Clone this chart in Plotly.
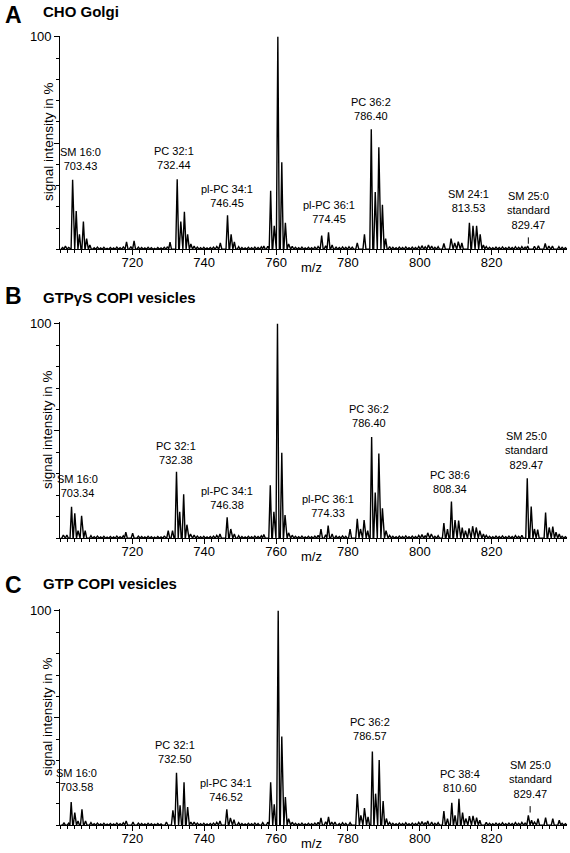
import plotly.graph_objects as go

# ---------------- data ----------------
panel_letters = ["A", "B", "C"]
panel_titles = ["CHO Golgi", "GTPγS COPI vesicles", "GTP COPI vesicles"]

# Panel A: CHO Golgi  (m/z, signal intensity in %)
mz_a = [701.4, 703.4, 704.4, 705.3, 706.4, 707.3, 708.2, 718.4, 720.5, 730.5,
        732.5, 733.5, 734.5, 735.4, 736.3, 744.5, 746.5, 747.5, 748.4, 756.6,
        758.5, 759.5, 760.5, 761.6, 762.6, 763.5, 772.7, 774.6, 775.6, 782.6,
        784.6, 786.5, 787.6, 788.6, 789.6, 790.5, 806.7, 808.7, 809.7, 810.7,
        811.7, 813.8, 814.8, 815.8, 816.8, 817.7, 830.0, 834.9, 835.9]
int_a = [1.5, 32.7, 18, 7, 13, 5, 2, 3.5, 4, 3.4,
         33, 13, 17.6, 7, 2.5, 3, 16, 7, 3.5, 1.5,
         27.5, 11, 100, 41, 12.5, 2.5, 6.5, 8, 2, 3,
         7, 56.5, 27, 48, 21, 5, 2.7, 5, 3, 3.6,
         3, 12.5, 11, 11, 7, 2, 1.5, 2.7, 1.5]

# Panel B: GTPgammaS COPI vesicles
mz_b = [700.8, 701.8, 703.1, 704.0, 704.9, 705.9, 706.9, 718.2, 720.1, 730.0,
        731.2, 732.3, 733.2, 734.3, 735.2, 736.2, 744.4, 746.4, 747.4, 748.4,
        756.6, 758.4, 759.4, 760.4, 761.6, 762.5, 763.5, 772.5, 774.5, 775.6,
        780.6, 782.6, 783.5, 784.5, 785.5, 786.6, 787.6, 788.6, 789.6, 790.6,
        802.2, 803.2, 806.7, 807.7, 808.8, 809.8, 810.8, 811.8, 812.7, 813.7,
        814.7, 815.7, 816.7, 817.7, 829.9, 831.0, 831.9, 832.8, 835.0, 836.0,
        837.0, 837.9, 838.8]
int_b = [1.5, 1.5, 14.7, 11.6, 3.5, 10.5, 3.5, 2.8, 2.3, 3.5,
         3.5, 31, 12.3, 20.5, 6.3, 2, 2, 9.7, 4.3, 2,
         1.7, 24.7, 12.3, 100, 39.8, 10.8, 2.5, 4.3, 5.9, 2,
         4.3, 9, 4.3, 8.5, 3.5, 47.2, 21.3, 39.5, 14, 3.5,
         2.5, 2, 7.1, 4.3, 17.1, 8.5, 8.2, 5, 3.5, 4.6,
         5.6, 5, 3.5, 2, 28, 14.8, 4.3, 4, 12, 5,
         5.4, 2.8, 2]

# Panel C: GTP COPI vesicles
mz_c = [701.0, 703.0, 704.0, 704.9, 706.0, 707.0, 718.3, 720.2, 729.5, 731.3,
        732.3, 733.3, 734.4, 735.4, 736.3, 744.4, 746.3, 747.3, 748.3, 756.3,
        758.5, 759.5, 760.6, 761.6, 762.6, 763.5, 772.5, 774.6, 775.5, 776.4,
        780.6, 782.6, 783.6, 784.6, 785.6, 786.8, 787.7, 788.7, 789.8, 790.7,
        802.2, 806.7, 807.7, 808.9, 809.8, 810.9, 811.9, 812.8, 813.8, 814.8,
        815.8, 816.7, 830.2, 831.1, 832.9, 835.0, 837.0, 838.8]
int_c = [1, 10.8, 5.9, 2, 7.4, 2, 2, 1.5, 1.5, 6.9,
         24.4, 9.3, 20, 8.5, 1.5, 2, 7.4, 3.4, 2.6, 1.2,
         20, 9.7, 100, 41.4, 13.1, 3, 3.4, 3.9, 1.5, 1.5,
         1.2, 14.5, 4.6, 8, 3.9, 34.4, 14.7, 30.4, 11.3, 3.1,
         2, 6.6, 3.1, 10.5, 4.6, 12.3, 5.9, 3.1, 4.2, 4.3,
         3.5, 2.3, 4.6, 2.3, 3, 3.5, 3, 2.3]

# baseline noise bumps (m/z, %), shared look of the baseline
noise_mz = [700.6, 701.5, 702.3, 708.5, 709.4, 710.3, 711.2, 712.1, 713.0, 713.9,
            714.8, 715.7, 716.6, 717.5, 719.6, 721.7, 722.6, 723.5, 724.4, 725.3,
            726.2, 727.1, 728.0, 728.9, 729.8, 737.2, 738.1, 739.0, 739.9, 740.8,
            741.7, 742.6, 743.5, 749.6, 750.5, 751.4, 752.3, 753.2, 754.1, 755.0,
            755.9, 757.7, 764.5, 765.4, 766.3, 767.2, 768.1, 769.0, 769.9, 770.8,
            771.7, 773.8, 775.8, 776.7, 777.6, 778.5, 779.4, 780.3, 781.2, 791.6,
            792.5, 793.4, 794.3, 795.2, 796.1, 797.0, 797.9, 798.8, 799.7, 800.6,
            801.5, 802.4, 803.3, 804.2, 805.1, 818.5, 819.4, 820.3, 821.2, 822.1,
            823.0, 823.9, 824.8, 825.7, 826.6, 827.5, 828.4, 829.3, 831.9, 833.0,
            836.9, 838.7, 839.6, 840.5]
noise_int = [0.8, 1.4, 0.9, 1.2, 0.7, 1.0, 0.6, 0.9, 0.5, 0.8,
             0.6, 1.0, 0.7, 1.1, 1.3, 1.0, 0.8, 0.6, 0.9, 0.7,
             0.5, 0.8, 0.6, 0.9, 1.2, 1.5, 1.0, 0.7, 0.9, 0.6,
             0.8, 1.0, 1.3, 1.2, 0.8, 0.6, 0.9, 0.7, 1.0, 0.8,
             1.1, 1.4, 1.4, 0.9, 0.7, 1.0, 0.6, 0.9, 0.7, 1.0,
             1.3, 1.6, 1.5, 1.0, 0.8, 1.1, 0.9, 1.2, 1.0, 1.3,
             0.9, 0.7, 1.0, 0.8, 1.1, 0.7, 1.0, 0.8, 1.3, 1.7,
             1.2, 2.0, 1.5, 0.9, 1.2, 1.3, 0.9, 0.7, 1.0, 0.8,
             1.1, 0.7, 1.0, 0.8, 1.2, 0.9, 1.3, 1.0, 1.4, 1.7,
             1.5, 1.2, 0.9, 0.7]

# peak labels: (text, m/z of label centre, % level of label bottom, arrow-tip % or None)
labels_a = [("SM 16:0<br>703.43", 705.6, 35.5, None),
            ("PC 32:1<br>732.44", 731.7, 36.0, None),
            ("pl-PC 34:1<br>746.45", 746.4, 18.2, None),
            ("PC 34:1<br>760.45", 760.0, 102.5, None),
            ("pl-PC 36:1<br>774.45", 774.7, 10.4, None),
            ("PC 36:2<br>786.40", 786.3, 58.9, None),
            ("SM 24:1<br>813.53", 813.5, 15.6, None),
            ("SM 25:0<br>standard<br>829.47", 830.2, 7.5, 2.6)]
labels_b = [("SM 16:0<br>703.34", 704.8, 17.4, None),
            ("PC 32:1<br>732.38", 732.2, 32.9, None),
            ("pl-PC 34:1<br>746.38", 746.3, 11.6, None),
            ("PC 34:1<br>760.39", 760.2, 103.0, None),
            ("pl-PC 36:1<br>774.33", 774.5, 8.2, None),
            ("PC 36:2<br>786.40", 786.0, 49.9, None),
            ("PC 38:6<br>808.34", 808.4, 19.0, None),
            ("SM 25:0<br>standard<br>829.47", 829.7, 30.6, None)]
labels_c = [("SM 16:0<br>703.58", 704.5, 13.9, None),
            ("PC 32:1<br>732.50", 731.9, 27.0, None),
            ("pl-PC 34:1<br>746.52", 746.1, 9.3, None),
            ("PC 34:1<br>760.54", 760.0, 102.8, None),
            ("PC 36:2<br>786.57", 786.1, 37.8, None),
            ("PC 38:4<br>810.60", 811.2, 13.6, None),
            ("SM 25:0<br>standard<br>829.47", 830.7, 10.8, 5.9)]

x_ticks = [720, 740, 760, 780, 800, 820]

# ---------------- layout geometry (pixels) ----------------
W, H = 570, 853
FONT = "Liberation Sans, Arial, Helvetica, sans-serif"
X_RANGE = [700, 841]
X_DOMAIN = [60.4 / W, (60.4 + 141 * 3.594) / W]
# (px of 100 %, px of 0 %)
panel_px = [(31, 245), (320, 536), (609, 825)]
letter_px = [9, 292, 583]      # vertical centre of panel letter boxes
title_px = [6, 294, 582]       # vertical centre of panel title boxes
Y_MAX = 100.6


def profile(mz, inten):
    """Join peak tops into a spectrum outline (peak half-width 0.42 m/z)."""
    hw = 0.42
    tops = sorted(zip(mz, inten))
    keep = [(m, h) for m, h in zip(noise_mz, noise_int)
            if all(abs(m - p) > 0.7 for p in mz)]
    tops = sorted(tops + keep)
    xs, ys = [X_RANGE[0]], [0]
    prev = None
    for m, h in tops:
        if prev is not None:
            gap = m - prev[0]
            if gap <= 2 * hw:
                xs.append((m + prev[0]) / 2)
                ys.append(0.12 * min(h, prev[1]))
            else:
                xs += [prev[0] + hw, m - hw]
                ys += [0, 0]
        else:
            xs.append(m - hw)
            ys.append(0)
        xs.append(m)
        ys.append(h)
        prev = (m, h)
    xs += [prev[0] + hw, X_RANGE[1]]
    ys += [0, 0]
    return xs, ys


fig = go.Figure()
layout = dict(width=W, height=H, autosize=False,
              margin=dict(l=0, r=0, t=0, b=0),
              paper_bgcolor="white", plot_bgcolor="white",
              showlegend=False, font=dict(family=FONT, color="black"))
annotations = []

series = [(mz_a, int_a, labels_a), (mz_b, int_b, labels_b), (mz_c, int_c, labels_c)]

for i, ((mz, inten, labels), (p100, p0)) in enumerate(zip(series, panel_px)):
    sfx = "" if i == 0 else str(i + 1)
    xs, ys = profile(mz, inten)
    fig.add_trace(go.Scatter(x=xs, y=ys, mode="lines",
                             line=dict(color="black", width=1.4),
                             xaxis="x" + sfx, yaxis="y" + sfx,
                             hoverinfo="skip"))
    top_px = p0 - (p0 - p100) * Y_MAX / 100
    ydom = [1 - p0 / H, 1 - top_px / H]
    layout["xaxis" + sfx] = dict(
        domain=X_DOMAIN, range=X_RANGE, anchor="y" + sfx,
        showline=True, linecolor="black", linewidth=1.4,
        showgrid=False, zeroline=False,
        tickmode="array", tickvals=x_ticks, ticks="outside",
        ticklen=5, tickwidth=1.2, tickcolor="black", ticklabelstandoff=-4,
        tickfont=dict(size=13, family=FONT, color="black"),
        minor=dict(dtick=2, tick0=700, ticks="outside", ticklen=2.5,
                   tickwidth=1, tickcolor="black", showgrid=False),
    )
    layout["yaxis" + sfx] = dict(
        domain=ydom, range=[0, Y_MAX], anchor="x" + sfx,
        showline=True, linecolor="black", linewidth=1.4,
        showgrid=False, zeroline=False,
        tickmode="array", tickvals=[50, 100], ticktext=["", "100"],
        ticks="outside", ticklen=5, tickwidth=1.2, tickcolor="black",
        tickfont=dict(size=13, family=FONT, color="black"),
        minor=dict(dtick=10, tick0=0, ticks="outside", ticklen=3,
                   tickwidth=1, tickcolor="black", showgrid=False),
    )
    # panel letter and title
    annotations.append(dict(text="<b>%s</b>" % panel_letters[i], xref="paper", yref="paper",
                            x=3 / W, y=1 - letter_px[i] / H, xanchor="left", yanchor="middle",
                            showarrow=False, font=dict(size=23, family=FONT, color="black")))
    annotations.append(dict(text="<b>%s</b>" % panel_titles[i], xref="paper", yref="paper",
                            x=41 / W, y=1 - title_px[i] / H, xanchor="left", yanchor="middle",
                            showarrow=False, font=dict(size=15, family=FONT, color="black")))
    # y-axis title
    annotations.append(dict(text="signal intensity in %", xref="paper", yref="paper",
                            x=48 / W, y=1 - ((p0 + p100) / 2 - 1) / H, xanchor="center", yanchor="middle",
                            textangle=-90, showarrow=False,
                            font=dict(size=13.5, family=FONT, color="black")))
    # m/z label
    annotations.append(dict(text="m/z", xref="x" + sfx, yref="paper",
                            x=770, y=1 - (p0 + 18) / H, xanchor="center", yanchor="middle",
                            showarrow=False, font=dict(size=13, family=FONT, color="black")))
    # peak labels
    for text, lx, ly, tip in labels:
        annotations.append(dict(text=text, xref="x" + sfx, yref="y" + sfx,
                                x=lx, y=ly, xanchor="center", yanchor="bottom",
                                showarrow=False,
                                font=dict(size=11, family=FONT, color="black")))
        if tip is not None:
            annotations.append(dict(text="", xref="x" + sfx, yref="y" + sfx,
                                    x=lx, y=tip, ax=lx, ay=ly - 1.2, axref="x" + sfx, ayref="y" + sfx,
                                    showarrow=True, arrowhead=0, arrowwidth=1,
                                    arrowcolor="black"))

layout["annotations"] = annotations
fig.update_layout(**layout)
fig.write_html("out.html", config={"displayModeBar": False},
               post_script="document.body.style.margin='0';document.body.style.overflow='hidden';")
